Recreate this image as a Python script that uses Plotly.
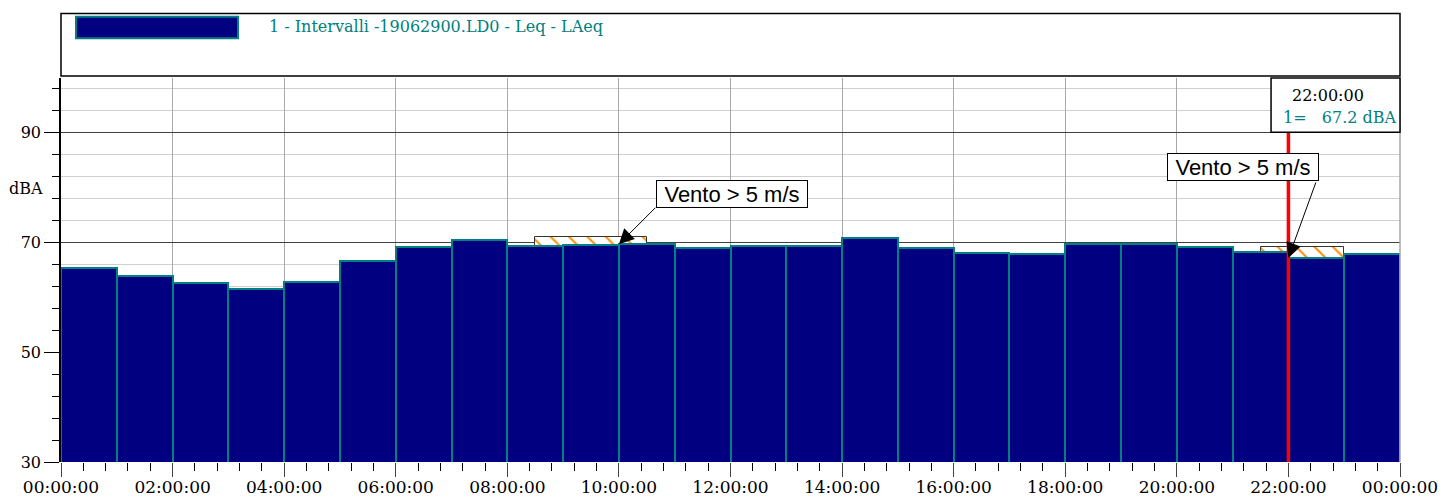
import plotly.graph_objects as go

# Hourly LAeq intervals, 29 June 2019
day = "2019-06-29"
interval_start = ["00:00", "01:00", "02:00", "03:00", "04:00", "05:00",
                  "06:00", "07:00", "08:00", "09:00", "10:00", "11:00",
                  "12:00", "13:00", "14:00", "15:00", "16:00", "17:00",
                  "18:00", "19:00", "20:00", "21:00", "22:00", "23:00"]
leq_dba = [65.4, 63.9, 62.7, 61.5, 62.8, 66.6, 69.2, 70.5, 69.3, 69.6, 69.7, 69.1,
           69.3, 69.4, 70.9, 69.1, 68.1, 68.0, 69.8, 69.8, 69.2, 68.2, 67.2, 67.9]
series_name = "1 - Intervalli -19062900.LD0 - Leq - LAeq"

# Periods flagged for wind above 5 m/s
wind_start = ["08:30", "21:30"]
wind_minutes = [120, 90]
wind_level = [71.1, 69.2]
wind_label = "Vento > 5 m/s"
wind_arrow_at = ["10:00", "22:00"]

cursor_time = "22:00"

y_ticks = [30, 50, 70, 90]

NAVY = "#000080"
TEAL = "#008080"
SERIF = "DejaVu Serif"

HOUR_MS = 3600 * 1000
xs = [f"{day} {t}:00" for t in interval_start]
level_at = dict(zip(interval_start, leq_dba))

fig = go.Figure()

# hatched wind bands, underneath the interval bars
fig.add_trace(go.Bar(
    x=[f"{day} {t}:00" for t in wind_start],
    y=wind_level,
    width=[m * 60 * 1000 for m in wind_minutes],
    offset=0,
    marker=dict(color="white",
                line=dict(color="#333333", width=1),
                pattern=dict(shape="\\", fgcolor="#ff8c00", bgcolor="white",
                             size=13, solidity=0.15, fillmode="replace")),
    showlegend=False, hoverinfo="skip",
))

fig.add_trace(go.Bar(
    x=xs, y=leq_dba, width=HOUR_MS, offset=0,
    name=series_name,
    marker=dict(color=NAVY, line=dict(color=TEAL, width=2)),
    showlegend=False,
))

t0 = f"{day} 00:00:00"
t1 = "2019-06-30 00:00:00"

fig.update_layout(
    width=1444, height=498,
    margin=dict(l=61, r=44, t=78, b=36, autoexpand=False),
    paper_bgcolor="white", plot_bgcolor="white",
    barmode="overlay", bargap=0,
    font=dict(family=SERIF, size=16, color="black"),
    xaxis=dict(
        type="date", range=[t0, t1], automargin=False,
        tick0=t0, dtick=2 * HOUR_MS, tickformat="%H:%M:%S",
        ticks="outside", ticklen=14, tickcolor="#444444", tickwidth=1,
        ticklabelstandoff=-4,
        tickfont=dict(family=SERIF, size=17, color="black"),
        showgrid=True, gridcolor="#a8a8a8", gridwidth=1,
        showline=False, zeroline=False,
        minor=dict(dtick=24 * 60 * 1000, tick0=t0, ticks="outside",
                   ticklen=8, tickcolor="black", showgrid=False),
    ),
    yaxis=dict(
        range=[30, 100], tickmode="array", tickvals=y_ticks, automargin=False,
        ticks="outside", ticklen=15, tickcolor="black", tickwidth=1,
        tickfont=dict(family=SERIF, size=16, color="black"),
        showgrid=True, gridcolor="#404040", gridwidth=1,
        showline=True, linecolor="black", linewidth=1.5,
        zeroline=False,
        minor=dict(dtick=4, tick0=30, ticks="outside", ticklen=7,
                   tickcolor="black", showgrid=True,
                   gridcolor="#cfcfcf", gridwidth=1),
    ),
)

shapes = []
# right border of the plot frame
shapes.append(dict(type="line", xref="paper", yref="paper", x0=1, x1=1, y0=0, y1=1,
                   line=dict(color="#a8a8a8", width=1.5), layer="above"))
# legend box above the plot
shapes.append(dict(type="rect", xref="paper", yref="paper",
                   x0=0, x1=1, y0=1.005, y1=1.168,
                   line=dict(color="black", width=1.5), fillcolor="white", layer="above"))
shapes.append(dict(type="rect", xref="paper", yref="paper",
                   x0=0.0112, x1=0.1322, y0=1.1034, y1=1.1596,
                   line=dict(color=TEAL, width=2), fillcolor=NAVY, layer="above"))
# cursor line
cursor_x = f"{day} {cursor_time}:00"
shapes.append(dict(type="line", xref="x", yref="paper", x0=cursor_x, x1=cursor_x,
                   y0=0, y1=1, line=dict(color="#ff0000", width=3.5), layer="above"))
# cursor read-out box
shapes.append(dict(type="rect", xref="paper", yref="paper",
                   x0=0.9037, x1=1.0, y0=0.8586, y1=1.0,
                   line=dict(color="black", width=1.5), fillcolor="white", layer="above"))
fig.update_layout(shapes=shapes)

annotations = [
    dict(text=series_name, xref="paper", yref="paper", x=0.1538, y=1.1336,
         xanchor="left", yanchor="middle", showarrow=False,
         font=dict(family=SERIF, size=16, color=TEAL)),
    dict(text="dBA", xref="paper", yref="paper", x=-0.0258, y=0.711,
         xanchor="center", yanchor="middle", showarrow=False,
         font=dict(family=SERIF, size=16, color="black")),
    dict(text=f"{cursor_time}:00", xref="paper", yref="paper", x=0.9466, y=0.9539,
         xanchor="center", yanchor="middle", showarrow=False,
         font=dict(family=SERIF, size=16, color="black")),
    dict(text=f"1=&nbsp;&nbsp;&nbsp;{level_at[cursor_time]:.1f} dBA",
         xref="paper", yref="paper", x=0.9111, y=0.8966,
         xanchor="left", yanchor="middle", showarrow=False,
         font=dict(family=SERIF, size=16, color=TEAL)),
]

# wind labels and their arrows
label_pos = [(0.5011, 0.698), (0.8824, 0.7685)]
arrow_tail = [(38, -38), (28, -77)]
for (px, py), at, (ax, ay) in zip(label_pos, wind_arrow_at, arrow_tail):
    annotations.append(dict(
        text="", x=f"{day} {at}:00", y=level_at[at], xref="x", yref="y",
        ax=ax, ay=ay, showarrow=True, arrowhead=2, arrowsize=3,
        arrowwidth=1, arrowcolor="black"))
    annotations.append(dict(
        text=wind_label, xref="paper", yref="paper", x=px, y=py,
        xanchor="center", yanchor="middle", showarrow=False,
        bgcolor="white", bordercolor="black", borderwidth=1, borderpad=0,
        width=150, height=26,
        font=dict(family="Liberation Sans", size=22, color="black")))
fig.update_layout(annotations=annotations)

fig.write_html("out.html")
